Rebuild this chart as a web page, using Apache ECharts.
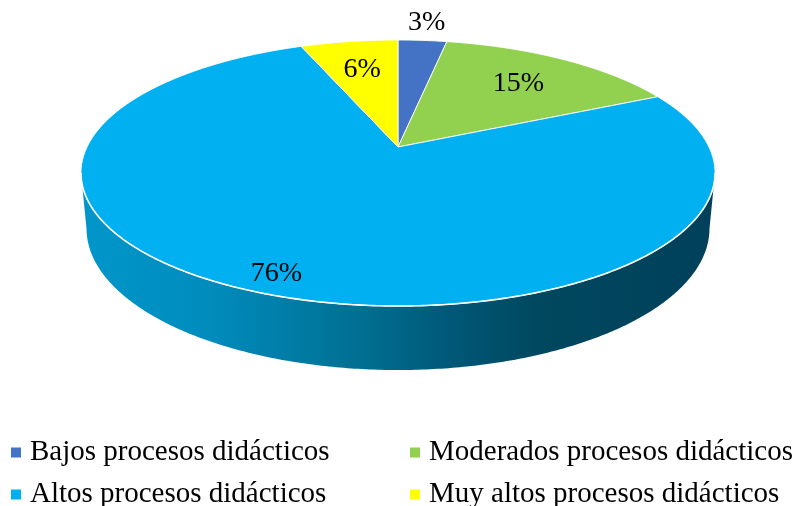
<!DOCTYPE html>
<html><head><meta charset="utf-8">
<script src="https://cdn.jsdelivr.net/npm/echarts@6/dist/echarts.min.js"></script>
<style>html,body{margin:0;padding:0;background:#fff}#main{width:798px;height:506px}</style>
</head><body><div id="main"></div>
<script>
// ---- data ----
const categories = ['Bajos procesos didácticos', 'Moderados procesos didácticos', 'Altos procesos didácticos', 'Muy altos procesos didácticos'];
const values = [3, 15, 76, 6];
const colors = ['#4472C4', '#92D050', '#00B0F0', '#FFFF00'];
const sideShades = [
  ['#3A62A8', '#2A4880'],
  ['#7DB244', '#5E8833'],
  ['#0096CA', '#008CBD', '#006E90', '#005878', '#00485F', '#00405A'],
  ['#D9D900', '#A8A800']
];
const labelRadius = [1.21, 0.70, 0.89, 0.70];
// legend slots: [left, top] for each category
const legendSlots = [[11, 438], [410, 438], [11, 480], [410, 480]];

// ---- geometry of the tilted pie ----
const VIEW = {cx: 398, cy: 147, f: 1449.5, dist: 4.662, tc: 0.9115, ts: 0.4114, depth: 0.1953};
function proj(r, th, h) {
  const x3 = r * Math.sin(th), z3 = -r * Math.cos(th);
  const dep = VIEW.dist - (z3 * VIEW.tc + h * VIEW.ts);
  return [VIEW.cx + VIEW.f * x3 / dep, VIEW.cy - VIEW.f * (h * VIEW.tc - z3 * VIEW.ts) / dep];
}
const total = values.reduce((a, b) => a + b, 0);
const starts = [];
{ let acc = 0; values.forEach(v => { starts.push(acc / total * 2 * Math.PI); acc += v; }); }
function arc(a0, a1, h) {
  const n = Math.max(2, Math.ceil((a1 - a0) / 0.01));
  const pts = [];
  for (let k = 0; k <= n; k++) pts.push(proj(1, a0 + (a1 - a0) * k / n, h));
  return pts;
}
const thS = Math.acos(-VIEW.tc / VIEW.dist);
const gx0 = proj(1, 2 * Math.PI - thS, 0)[0], gx1 = proj(1, thS, 0)[0];
const sidePos = {2: [0, 0.2, 0.45, 0.58, 0.72, 1]};

function renderSlice(i) {
  return function (params, api) {
    const v = api.value(0);
    const a0 = starts[i], a1 = a0 + v / total * 2 * Math.PI;
    const children = [];
    const lo = Math.max(a0, thS), hi = Math.min(a1, 2 * Math.PI - thS);
    if (hi > lo) {
      const top = arc(lo, hi, 0), bot = arc(lo, hi, -VIEW.depth).reverse();
      const shades = sideShades[i];
      const pos = sidePos[i] || shades.map((c, k) => k / (shades.length - 1));
      children.push({
        type: 'polygon', z2: 1, shape: {points: top.concat(bot)},
        style: {fill: {type: 'linear', x: gx0, y: 0, x2: gx1, y2: 0, global: true,
          colorStops: shades.map((c, k) => ({offset: pos[k], color: c}))}}
      });
      children.push({type: 'polyline', z2: 3, shape: {points: top}, style: {stroke: '#ffffff', lineWidth: 1.6, fill: null}});
    }
    const face = [proj(0, 0, 0)].concat(arc(a0, a1, 0));
    children.push({type: 'polygon', z2: 2, shape: {points: face},
      style: {fill: api.visual('color'), stroke: 'rgba(255,255,255,0.9)', lineWidth: 1, lineJoin: 'round'}});
    const lp = proj(labelRadius[i], (a0 + a1) / 2, 0);
    children.push({type: 'text', z2: 4, x: lp[0], y: lp[1],
      style: {text: Math.round(v) + '%', fill: '#000', font: '28px "Liberation Serif"', align: 'center', verticalAlign: 'middle'}});
    return {type: 'group', children: children};
  };
}

const chart = echarts.init(document.getElementById('main'), null, {renderer: 'canvas'});
const legendText = {fontFamily: 'Liberation Serif', fontSize: 29, color: '#000', lineHeight: 26, padding: [0, 0, 0, 4]};
chart.setOption({
  animation: false,
  backgroundColor: '#fff',
  legend: categories.map((name, i) => ({
    data: [name], orient: 'horizontal', left: legendSlots[i][0], top: legendSlots[i][1],
    itemWidth: 10, itemHeight: 10, icon: 'rect', selectedMode: false, padding: 0, textStyle: legendText
  })),
  series: categories.map((name, i) => ({
    type: 'custom', name: name, coordinateSystem: 'none',
    itemStyle: {color: colors[i]},
    data: [values[i]],
    renderItem: renderSlice(i)
  }))
});
</script></body></html>
